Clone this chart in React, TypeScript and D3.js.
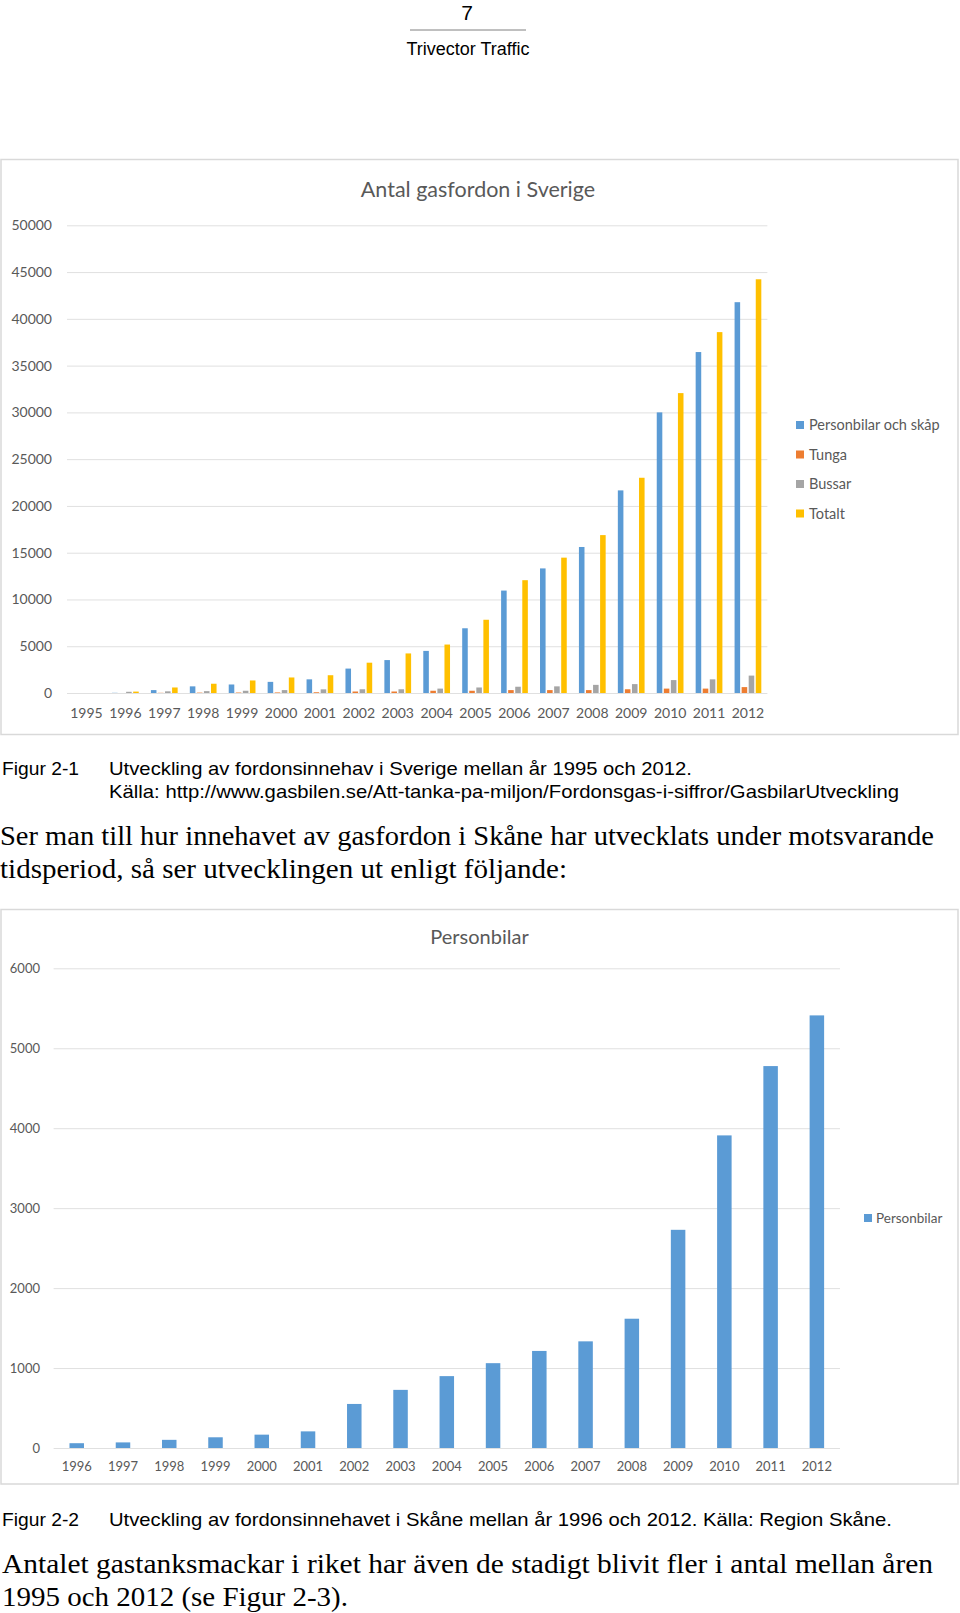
import React, { useRef, useEffect } from "react"
import * as d3 from "d3"

// Figur 2-1: Antal gasfordon i Sverige
const years1 = ["1995", "1996", "1997", "1998", "1999", "2000", "2001", "2002", "2003",
  "2004", "2005", "2006", "2007", "2008", "2009", "2010", "2011", "2012"]
const personbilarOchSkap = [0, 20, 310, 710, 910, 1190, 1460, 2610, 3520, 4500, 6920, 10950, 13320, 15610, 21660, 30000, 36450, 41780]
const tunga = [0, 0, 20, 40, 50, 60, 80, 160, 160, 240, 240, 310, 310, 310, 400, 470, 470, 630]
const bussar = [0, 130, 180, 200, 240, 310, 390, 400, 400, 470, 590, 670, 710, 870, 950, 1380, 1460, 1860]
const totalt = [0, 150, 590, 990, 1340, 1660, 1900, 3240, 4230, 5180, 7830, 12060, 14470, 16880, 23010, 32060, 38580, 44230]
const seriesNames1 = ["Personbilar och skåp", "Tunga", "Bussar", "Totalt"]
const seriesColors1 = ["#5B9BD5", "#ED7D31", "#A5A5A5", "#FFC000"]
const yTicks1 = [0, 5000, 10000, 15000, 20000, 25000, 30000, 35000, 40000, 45000, 50000]

// Figur 2-2: Personbilar i Skåne
const years2 = ["1996", "1997", "1998", "1999", "2000", "2001", "2002", "2003", "2004",
  "2005", "2006", "2007", "2008", "2009", "2010", "2011", "2012"]
const personbilarSkane = [60, 70, 102, 134, 167, 208, 551, 727, 899, 1061, 1214, 1334, 1617, 2729, 3910, 4777, 5411]
const yTicks2 = [0, 1000, 2000, 3000, 4000, 5000, 6000]

const chartFont = "Lato, 'Noto Sans', sans-serif"
const textGray = "#595959"
const gridGray = "#e0e0e0"

const GasChart: React.FC = () => {
  const gRef = useRef<SVGGElement>(null)

  useEffect(() => {
    const g = d3.select(gRef.current)
    g.selectAll("*").remove()

    const left = 67, right = 767.4, top = 225.3, bottom = 693

    const x0 = d3.scaleBand()
      .domain(years1)
      .range([left, right])
      .paddingInner(2.19 / 7)
      .paddingOuter(2.19 / 14)

    const x1 = d3.scaleBand()
      .domain(seriesNames1)
      .range([0, x0.bandwidth()])
      .paddingInner(0.27 / 1.27)

    const y = d3.scaleLinear()
      .domain([0, 50000])
      .range([bottom, top])

    g.append("rect")
      .attr("x", 1).attr("y", 159.5)
      .attr("width", 957).attr("height", 575)
      .attr("fill", "#fff")
      .attr("stroke", "#d9d9d9")
      .attr("stroke-width", 1.5)

    g.append("text")
      .attr("x", 478).attr("y", 197)
      .attr("text-anchor", "middle")
      .attr("font-family", chartFont)
      .attr("font-size", 21.5)
      .attr("fill", textGray)
      .text("Antal gasfordon i Sverige")

    const yAxisG = g.append("g")
      .attr("transform", `translate(${left},0)`)
      .call(d3.axisLeft(y).tickValues(yTicks1).tickFormat(d3.format("d")).tickSize(-(right - left)).tickPadding(15))
    yAxisG.select(".domain").remove()
    yAxisG.selectAll(".tick line").attr("stroke", gridGray)
    yAxisG.selectAll(".tick text")
      .attr("fill", textGray)
      .attr("font-family", chartFont)
      .attr("font-size", 14)

    const xAxisG = g.append("g")
      .attr("transform", `translate(0,${bottom})`)
      .call(d3.axisBottom(x0).tickSize(0).tickPadding(15.5))
    xAxisG.select(".domain").remove()
    xAxisG.selectAll(".tick text")
      .attr("fill", textGray)
      .attr("font-family", chartFont)
      .attr("font-size", 14)

    const series = [personbilarOchSkap, tunga, bussar, totalt]

    const groups = g.selectAll("g.year")
      .data(years1)
      .enter().append("g")
      .attr("class", "year")
      .attr("transform", d => `translate(${x0(d)},0)`)

    groups.selectAll("rect")
      .data((d, i) => series.map((s, k) => ({ name: seriesNames1[k], value: s[i], color: seriesColors1[k] })))
      .enter().append("rect")
      .attr("x", d => x1(d.name))
      .attr("y", d => y(d.value))
      .attr("width", x1.bandwidth())
      .attr("height", d => y(0) - y(d.value))
      .attr("fill", d => d.color)

    const legend = g.append("g")
    const legendY = [425, 454.5, 484, 513.5]
    seriesNames1.forEach((name, k) => {
      legend.append("rect")
        .attr("x", 796).attr("y", legendY[k] - 4)
        .attr("width", 8).attr("height", 8)
        .attr("fill", seriesColors1[k])
      legend.append("text")
        .attr("x", 809).attr("y", legendY[k] + 5)
        .attr("font-family", chartFont)
        .attr("font-size", 14.5)
        .attr("fill", textGray)
        .text(name)
    })
  }, [])

  return <g ref={gRef}></g>
}

const SkaneChart: React.FC = () => {
  const gRef = useRef<SVGGElement>(null)

  useEffect(() => {
    const g = d3.select(gRef.current)
    g.selectAll("*").remove()

    const left = 53.6, right = 840, top = 968.3, bottom = 1448

    const x = d3.scaleBand()
      .domain(years2)
      .range([left, right])
      .paddingInner(2.19 / 3.19)
      .paddingOuter(2.19 / 6.38)

    const y = d3.scaleLinear()
      .domain([0, 6000])
      .range([bottom, top])

    g.append("rect")
      .attr("x", 1).attr("y", 909.5)
      .attr("width", 957).attr("height", 574.5)
      .attr("fill", "#fff")
      .attr("stroke", "#d9d9d9")
      .attr("stroke-width", 1.5)

    g.append("text")
      .attr("x", 479.5).attr("y", 944)
      .attr("text-anchor", "middle")
      .attr("font-family", chartFont)
      .attr("font-size", 20)
      .attr("fill", textGray)
      .text("Personbilar")

    const yAxisG = g.append("g")
      .attr("transform", `translate(${left},0)`)
      .call(d3.axisLeft(y).tickValues(yTicks2).tickFormat(d3.format("d")).tickSize(-(right - left)).tickPadding(13.6))
    yAxisG.select(".domain").remove()
    yAxisG.selectAll(".tick line").attr("stroke", gridGray)
    yAxisG.selectAll(".tick text")
      .attr("fill", textGray)
      .attr("font-family", chartFont)
      .attr("font-size", 13)

    const xAxisG = g.append("g")
      .attr("transform", `translate(0,${bottom})`)
      .call(d3.axisBottom(x).tickSize(0).tickPadding(13.8))
    xAxisG.select(".domain").remove()
    xAxisG.selectAll(".tick text")
      .attr("fill", textGray)
      .attr("font-family", chartFont)
      .attr("font-size", 13)

    g.selectAll("rect.bar")
      .data(personbilarSkane)
      .enter().append("rect")
      .attr("class", "bar")
      .attr("x", (d, i) => x(years2[i]))
      .attr("y", d => y(d))
      .attr("width", x.bandwidth())
      .attr("height", d => y(0) - y(d))
      .attr("fill", "#5B9BD5")

    g.append("rect")
      .attr("x", 864).attr("y", 1214)
      .attr("width", 8).attr("height", 8)
      .attr("fill", "#5B9BD5")
    g.append("text")
      .attr("x", 876).attr("y", 1222.5)
      .attr("font-family", chartFont)
      .attr("font-size", 13.5)
      .attr("fill", textGray)
      .text("Personbilar")
  }, [])

  return <g ref={gRef}></g>
}

const sans = "'Liberation Sans', Arial, sans-serif"
const serif = "'Liberation Serif', 'Times New Roman', serif"

const App: React.FC = () => {
  return (
    <svg width={960} height={1613} style={{ position: "absolute", left: 0, top: 0, background: "#fff" }}>
      <rect x={0} y={0} width={960} height={1613} fill="#fff" />

      <text x={467} y={19.5} textAnchor="middle" fontFamily={sans} fontSize={21}>7</text>
      <line x1={410} x2={526} y1={30} y2={30} stroke="#808080" strokeWidth={1} />
      <text x={468} y={55} textAnchor="middle" fontFamily={sans} fontSize={17.5}
        textLength={123} lengthAdjust="spacingAndGlyphs">Trivector Traffic</text>

      <GasChart />

      <text x={2} y={775} fontFamily={sans} fontSize={19} textLength={77} lengthAdjust="spacingAndGlyphs">Figur 2-1</text>
      <text x={109} y={775} fontFamily={sans} fontSize={19} textLength={583} lengthAdjust="spacingAndGlyphs">
        Utveckling av fordonsinnehav i Sverige mellan år 1995 och 2012.
      </text>
      <text x={109} y={797.5} fontFamily={sans} fontSize={19} textLength={790} lengthAdjust="spacingAndGlyphs">
        Källa: http://www.gasbilen.se/Att-tanka-pa-miljon/Fordonsgas-i-siffror/GasbilarUtveckling
      </text>

      <text x={0} y={845} fontFamily={serif} fontSize={28} textLength={934} lengthAdjust="spacingAndGlyphs">
        Ser man till hur innehavet av gasfordon i Skåne har utvecklats under motsvarande
      </text>
      <text x={0} y={878} fontFamily={serif} fontSize={28} textLength={567} lengthAdjust="spacingAndGlyphs">
        tidsperiod, så ser utvecklingen ut enligt följande:
      </text>

      <SkaneChart />

      <text x={2} y={1526} fontFamily={sans} fontSize={19} textLength={77} lengthAdjust="spacingAndGlyphs">Figur 2-2</text>
      <text x={109} y={1526} fontFamily={sans} fontSize={19} textLength={783} lengthAdjust="spacingAndGlyphs">
        Utveckling av fordonsinnehavet i Skåne mellan år 1996 och 2012. Källa: Region Skåne.
      </text>

      <text x={2} y={1573} fontFamily={serif} fontSize={28} textLength={931} lengthAdjust="spacingAndGlyphs">
        Antalet gastanksmackar i riket har även de stadigt blivit fler i antal mellan åren
      </text>
      <text x={2} y={1605.5} fontFamily={serif} fontSize={28} textLength={346} lengthAdjust="spacingAndGlyphs">
        1995 och 2012 (se Figur 2-3).
      </text>
    </svg>
  )
}

export default App
